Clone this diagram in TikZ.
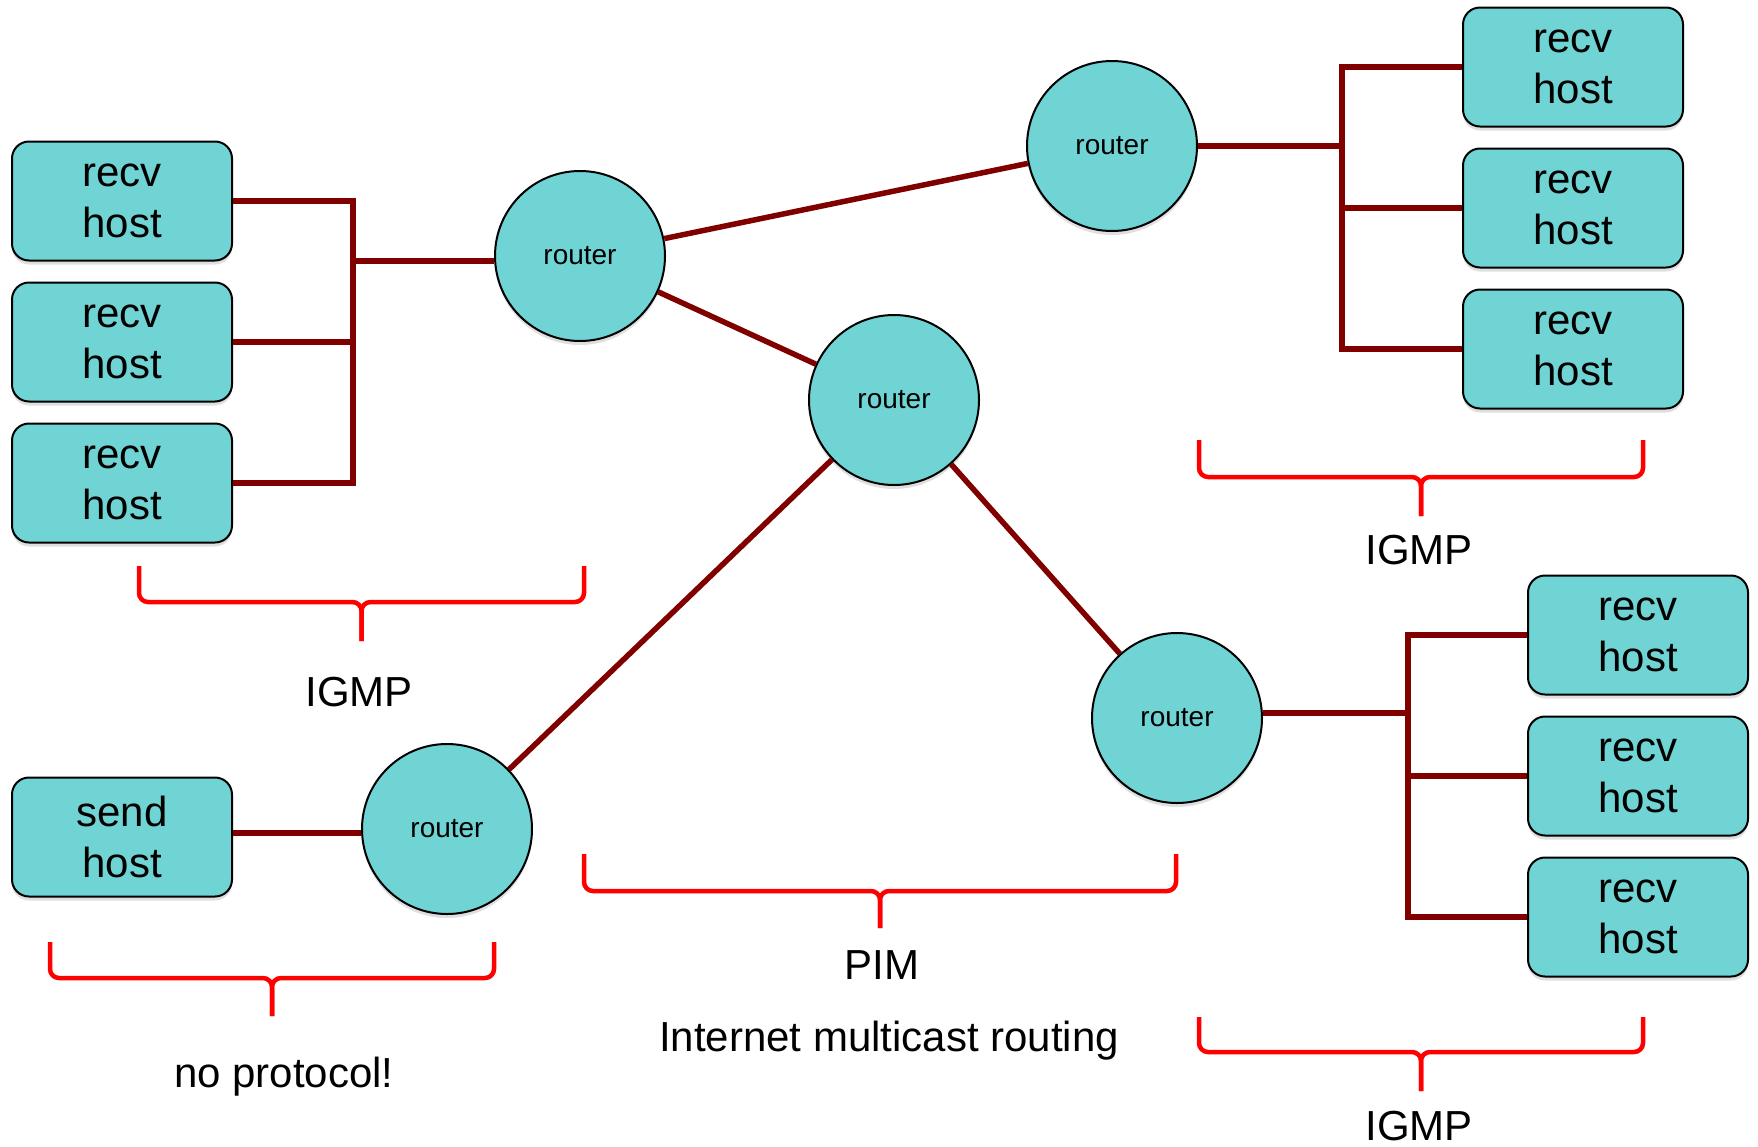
\documentclass[tikz,border=0pt]{standalone}
\usepackage{fontspec}
\setmainfont{Liberation Sans}
\usepackage{xcolor}
\usetikzlibrary{positioning,shadows}

\definecolor{hostfill}{RGB}{112,212,212}
\definecolor{linkred}{RGB}{128,0,0}

\begin{document}
\begin{tikzpicture}[
    x=1pt, y=-1pt,
    node distance=20pt,
    host/.style={draw, rounded corners=17pt, align=center, minimum width=220pt, minimum height=119pt, inner sep=4pt, fill=hostfill, line width=2pt, font=\fontsize{42}{51}\selectfont, drop shadow={shadow xshift=0pt, shadow yshift=-4pt, opacity=0.25}},
    router/.style={draw, circle, minimum size=170pt, inner sep=0pt, fill=hostfill, line width=2pt, font=\fontsize{28}{34}\selectfont, drop shadow={shadow xshift=0pt, shadow yshift=-4pt, opacity=0.25}},
    link/.style={draw=linkred, line width=5.5pt},
    bracket/.style={draw=red, line width=4.5pt, rounded corners=9pt},
    lbl/.style={anchor=base, font=\fontsize{42}{50}\selectfont}
]
\useasboundingbox (0,0) rectangle (1758,1146);

% routers
\node[router] (r1) at (580,256) {router};
\node[router] (r2) at (1112,146) {router};
\node[router] (r3) at (894,400) {router};
\node[router] (r4) at (447,829) {router};
\node[router] (r5) at (1177,718) {router};

% hosts
\node[host] (hl1) at (122,201) {recv\\host};
\node[host, below=of hl1] (hl2) {recv\\host};
\node[host, below=of hl2] (hl3) {recv\\host};
\node[host] (ht1) at (1573,67) {recv\\host};
\node[host, below=of ht1] (ht2) {recv\\host};
\node[host, below=of ht2] (ht3) {recv\\host};
\node[host] (hb1) at (1638,635) {recv\\host};
\node[host, below=of hb1] (hb2) {recv\\host};
\node[host, below=of hb2] (hb3) {recv\\host};
\node[host] (send) at (122,837) {send\\host};

% LANs
\coordinate (busL) at (353,261);
\coordinate (busT) at (1342,146);
\coordinate (busB) at (1408,713);

\draw[link] (hl1.east) -| (busL) |- (hl3.east);
\draw[link] (hl2.east) -- (hl2.east -| busL);
\draw[link] (busL) -- (busL -| r1.west);
\draw[link] (ht1.west) -| (busT) |- (ht3.west);
\draw[link] (ht2.west) -- (ht2.west -| busT);
\draw[link] (busT) -- (r2.east);
\draw[link] (hb1.west) -| (busB) |- (hb3.west);
\draw[link] (hb2.west) -- (hb2.west -| busB);
\draw[link] (busB) -- (busB -| r5.east);
\draw[link] ([yshift=4pt]send.east) -- ([yshift=4pt]send.east -| r4.west);

% router links
\draw[link] (r1) -- (r2);
\draw[link] (r1) -- (r3);
\draw[link] (r3) -- (r4);
\draw[link] (r3) -- (r5);

% brackets
\foreach \xa/\xb/\yt/\yb/\yc in {139/584/566/602/641, 1199/1643/440/477/516, 584/1176/854/891/928, 50/494/942/978/1016, 1199/1643/1017/1052/1091} {
  \draw[bracket] (\xa,\yt) -- (\xa,\yb) -- ({(\xa+\xb)/2},\yb) -- ({(\xa+\xb)/2},\yc);
  \draw[bracket] (\xb,\yt) -- (\xb,\yb) -- ({(\xa+\xb)/2},\yb) -- ({(\xa+\xb)/2},\yc);
}

% labels
\node[lbl] (igmpL) at (359,706) {IGMP};
\node[lbl] (igmpT) at (1419,564) {IGMP};
\node[lbl] (pim) at (882,979) {PIM};
\node[lbl] (mcast) at (889,1051) {Internet multicast routing};
\node[lbl] (noproto) at (284,1087) {no protocol!};
\node[lbl] (igmpB) at (1419,1140) {IGMP};
\end{tikzpicture}
\end{document}
